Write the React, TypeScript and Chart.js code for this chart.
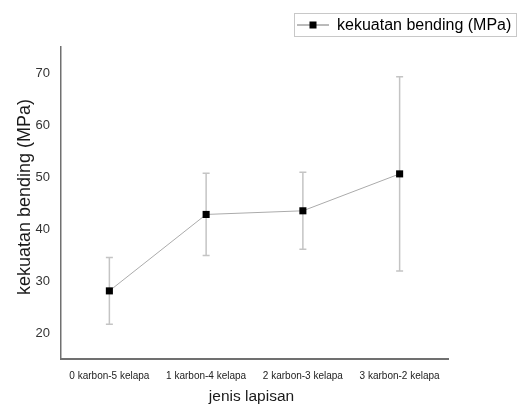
import React, { useEffect, useRef } from "react";
import { Chart, registerables } from "chart.js";

Chart.register(...registerables);

const categories = ["0 karbon-5 kelapa", "1 karbon-4 kelapa", "2 karbon-3 kelapa", "3 karbon-2 kelapa"];
const means = [28.1, 42.8, 43.5, 50.6];
const errors = [6.4, 7.9, 7.4, 18.7];
const yTicks = [20, 30, 40, 50, 60, 70];
const yMin = 15;
const yMax = 75;
const seriesName = "kekuatan bending (MPa)";
const xTitle = "jenis lapisan";
const yTitle = "kekuatan bending (MPa)";

const FONT = "'Liberation Sans', Arial, sans-serif";

const errorBarPlugin = {
  id: "errorBars",
  beforeDatasetsDraw(chart: any) {
    const ctx = chart.ctx;
    const xs = chart.scales.x;
    const ys = chart.scales.y;
    ctx.save();
    ctx.strokeStyle = "#c4c4c4";
    ctx.lineWidth = 1.5;
    means.forEach((m, i) => {
      const x = xs.getPixelForValue(i);
      const yt = ys.getPixelForValue(m + errors[i]);
      const yb = ys.getPixelForValue(m - errors[i]);
      ctx.beginPath();
      ctx.moveTo(x, yt);
      ctx.lineTo(x, yb);
      ctx.moveTo(x - 3.5, yt);
      ctx.lineTo(x + 3.5, yt);
      ctx.moveTo(x - 3.5, yb);
      ctx.lineTo(x + 3.5, yb);
      ctx.stroke();
    });
    ctx.restore();
  },
};

const decorPlugin = {
  id: "decor",
  afterDraw(chart: any) {
    const ctx = chart.ctx;
    const area = chart.chartArea;
    ctx.save();
    // legend box
    ctx.strokeStyle = "#c8c8c8";
    ctx.lineWidth = 1;
    ctx.strokeRect(294.5, 13.5, 222, 23);
    ctx.strokeStyle = "#777";
    ctx.beginPath();
    ctx.moveTo(297, 25);
    ctx.lineTo(329, 25);
    ctx.stroke();
    ctx.fillStyle = "#000";
    ctx.fillRect(309.5, 21.5, 7, 7);
    ctx.font = `16px ${FONT}`;
    ctx.textBaseline = "middle";
    ctx.textAlign = "left";
    ctx.fillText(seriesName, 337, 25.5);
    // x title
    ctx.fillStyle = "#1a1a1a";
    ctx.font = `15.5px ${FONT}`;
    ctx.textAlign = "center";
    ctx.fillText(xTitle, (area.left + area.right) / 2 - 3, 397);
    // y title
    ctx.translate(25, 197);
    ctx.rotate(-Math.PI / 2);
    ctx.font = `18px ${FONT}`;
    ctx.fillText(yTitle, 0, 0);
    ctx.restore();
  },
};

export default function App() {
  const ref = useRef<HTMLCanvasElement>(null);
  useEffect(() => {
    if (!ref.current) return;
    const chart = new Chart(ref.current, {
      type: "line",
      data: {
        labels: categories,
        datasets: [
          {
            label: seriesName,
            data: means,
            borderColor: "#ababab",
            borderWidth: 1,
            pointStyle: "rect",
            pointRadius: 5,
            pointBackgroundColor: "#000",
            pointBorderColor: "#000",
            pointBorderWidth: 0,
            fill: false,
          },
        ],
      },
      options: {
        animation: false,
        responsive: false,
        layout: { padding: { top: 47, right: 78, left: 0, bottom: 0 } },
        plugins: {
          legend: { display: false },
          tooltip: { enabled: false },
        },
        scales: {
          x: {
            type: "category",
            offset: true,
            grid: { display: false, drawTicks: false },
            border: { display: true, color: "#707070", width: 2 },
            ticks: {
              padding: 11,
              color: "#222",
              font: { size: 10, family: FONT },
              maxRotation: 0,
              autoSkip: false,
            },
            afterFit(scale: any) {
              scale.height = 47;
            },
          },
          y: {
            type: "linear",
            min: yMin,
            max: yMax,
            grid: { display: false, drawTicks: false },
            border: { display: true, color: "#707070", width: 1.5 },
            ticks: {
              padding: 11,
              color: "#333",
              font: { size: 13, family: FONT },
            },
            afterBuildTicks(scale: any) {
              scale.ticks = yTicks.map((v) => ({ value: v }));
            },
            afterFit(scale: any) {
              scale.width = 61;
            },
          },
        },
      },
      plugins: [errorBarPlugin, decorPlugin],
    });
    return () => chart.destroy();
  }, []);
  return (
    <div style={{ position: "absolute", left: 0, top: 0, width: 526, height: 406, background: "#fff" }}>
      <canvas ref={ref} width={526} height={406} />
    </div>
  );
}
